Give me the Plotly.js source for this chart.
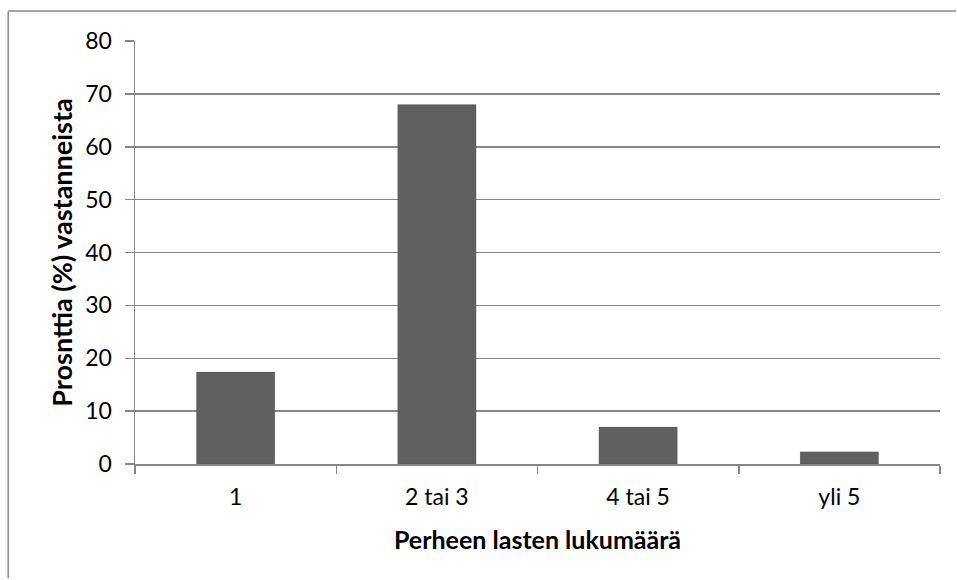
<!DOCTYPE html>
<html>
<head>
<meta charset="utf-8">
<script src="https://cdn.plot.ly/plotly-3.0.1.min.js"></script>
<style>html,body{margin:0;padding:0;background:#fff;}#chart{width:957px;height:580px;}</style>
</head>
<body>
<div id="chart"></div>
<script>
const categories = ["1", "2 tai 3", "4 tai 5", "yli 5"];
const values = [17.4, 68, 7, 2.3];
const yTickValues = [0, 10, 20, 30, 40, 50, 60, 70, 80];
const xTitle = "Perheen lasten lukumäärä";
const yTitle = "Prosnttia (%) vastanneista";

const fontFamily = "Lato, 'Open Sans', sans-serif";

const trace = {
  type: "bar",
  x: categories,
  y: values,
  marker: { color: "#606060", line: { color: "rgba(0,0,0,0.08)", width: 1 } },
  hoverinfo: "none"
};

const layout = {
  width: 957,
  height: 580,
  margin: { l: 135, r: 17, t: 41, b: 116 },
  paper_bgcolor: "#fff",
  plot_bgcolor: "#fff",
  bargap: 0.61,
  showlegend: false,
  font: { family: fontFamily, color: "#000", size: 23 },
  xaxis: {
    type: "category",
    showgrid: false,
    showline: true,
    linecolor: "#868686",
    linewidth: 1.5,
    ticks: "outside",
    tickson: "boundaries",
    ticklen: 8,
    tickcolor: "#868686",
    tickwidth: 1.5,
    ticklabelstandoff: 12,
    tickfont: { family: fontFamily, size: 23, color: "#000" },
    title: { text: xTitle, font: { family: fontFamily, size: 25, color: "#000", weight: "bold" }, standoff: 22 }
  },
  yaxis: {
    range: [0, 80],
    tickvals: yTickValues,
    showgrid: true,
    gridcolor: "#868686",
    gridwidth: 1.5,
    zeroline: false,
    showline: true,
    linecolor: "#868686",
    linewidth: 1.5,
    ticks: "outside",
    ticklen: 9,
    tickcolor: "#868686",
    tickwidth: 1.5,
    ticklabelstandoff: 8,
    tickfont: { family: fontFamily, size: 23, color: "#000" },
    title: { text: yTitle, font: { family: fontFamily, size: 27, color: "#000", weight: "bold" }, standoff: 5 }
  },
  shapes: [
    { type: "line", xref: "paper", yref: "paper", x0: -0.1575, x1: -0.1575, y0: 1.07, y1: -0.27, line: { color: "#888", width: 1.5 } },
    { type: "line", xref: "paper", yref: "paper", x0: -0.1575, x1: 1.02, y0: 1.071, y1: 1.071, line: { color: "#888", width: 1.5 } }
  ]
};

Plotly.newPlot("chart", [trace], layout, { displayModeBar: false, staticPlot: true });
</script>
</body>
</html>
